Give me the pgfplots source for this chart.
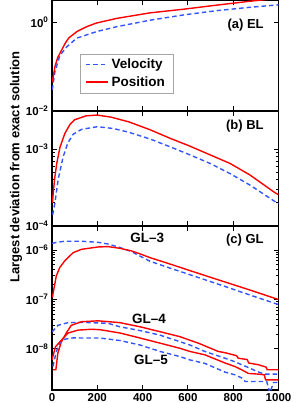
\documentclass[border=0pt]{standalone}
\usepackage{pgfplots}
\pgfplotsset{compat=1.18}
\usepackage{fontspec}
\setmainfont{Liberation Sans}
\definecolor{myred}{RGB}{255,0,0}
\definecolor{myblue}{RGB}{51,85,255}
\pgfplotsset{
 panel/.style={
  scale only axis, width=226.5pt, xmin=0, xmax=1000,
  xtick={0,200,400,600,800,1000}, tick align=inside,
  major tick length=5pt, minor tick length=3pt,
  axis line style={line width=1.1pt},
  every tick/.style={line width=0.9pt, black},
  tick label style={font=\fontsize{11.5}{13}\selectfont\bfseries},
  anchor=south west,
 },
 posline/.style={myred, line width=1.4pt},
 velline/.style={myblue, line width=1.4pt, dash pattern=on 4.5pt off 3pt},
}
\newcommand{\lab}{\fontsize{13}{15}\selectfont\bfseries}
\newcommand{\glab}{\fontsize{13.5}{15}\selectfont\bfseries}
\begin{document}
\begin{tikzpicture}[x=1pt,y=1pt]
\path[use as bounding box] (0,0) rectangle (299,403);
% panel (a)
\begin{axis}[ymode=log, panel, at={(52pt,292pt)}, height=111pt,
  ymin=1e-2, ymax=3.2, ytick={1e-2,1}, yticklabels={10\textsuperscript{−2},10\textsuperscript{0}},
  yminorticks=false, xticklabels={},
  legend style={at={(0.124,0.514)}, anchor=north west, draw=gray!70,
    font=\fontsize{13.5}{15}\selectfont\bfseries, inner xsep=5pt, inner ysep=3pt, row sep=2pt,
    nodes={inner xsep=3pt}},
  legend cell align=left,
  legend image code/.code={\draw[#1, line width=1.4pt] (0pt,0pt) -- (22pt,0pt);}]
\addplot[velline] coordinates {(1,0.03)(13,0.077)(35,0.18)(65,0.28)(109,0.44)(197,0.62)(286,0.8)(433,1.12)(580,1.47)(727,1.84)(874,2.19)(992,2.47)(1000,2.5)};
\addlegendentry{Velocity}
\addplot[posline] coordinates {(1,0.045)(3,0.05)(13,0.1)(25,0.16)(43,0.24)(60,0.35)(75,0.45)(110,0.62)(153,0.8)(197,0.97)(286,1.23)(433,1.64)(580,1.98)(727,2.45)(874,3.0)(1000,3.5)};
\addlegendentry{Position}
\node[anchor=east, font=\lab] at (rel axis cs:0.95,0.775) {(a) EL};
\end{axis}
% panel (b)
\begin{axis}[ymode=log, panel, at={(52pt,177pt)}, height=115pt,
  ymin=1e-4, ymax=3.12e-3, ytick={1e-4,1e-3}, yticklabels={10\textsuperscript{−4},10\textsuperscript{−3}},
  xticklabels={}]
\addplot[velline] coordinates {(3,1.4e-4)(13,2.0e-4)(27,4.0e-4)(49,7.9e-4)(70,1.2e-3)(93,1.55e-3)(130,1.8e-3)(200,1.95e-3)(270,1.85e-3)(340,1.65e-3)(433,1.35e-3)(521,1.07e-3)(609,8.4e-4)(698,6.5e-4)(786,4.8e-4)(874,3.4e-4)(985,2.07e-4)(1000,1.95e-4)};
\addplot[posline] coordinates {(2,2.0e-4)(6,2.8e-4)(12,4.2e-4)(21,6.5e-4)(35,1.05e-3)(57,1.6e-3)(80,2.1e-3)(100,2.4e-3)(150,2.7e-3)(200,2.76e-3)(260,2.6e-3)(340,2.25e-3)(433,1.78e-3)(521,1.38e-3)(609,1.09e-3)(698,8.4e-4)(786,6.5e-4)(874,4.6e-4)(985,2.7e-4)(1000,2.55e-4)};
\node[anchor=east, font=\lab] at (rel axis cs:0.95,0.87) {(b) BL};
\end{axis}
% panel (c)
\begin{axis}[ymode=log, panel, at={(52pt,13pt)}, height=164pt,
  ymin=1.48e-9, ymax=3.05e-6, ytick={1e-8,1e-7,1e-6},
  yticklabels={10\textsuperscript{−8},10\textsuperscript{−7},10\textsuperscript{−6}},
  xticklabels={0,200,400,600,800,1000}]
% GL-3
\addplot[velline] coordinates {(0,1.36e-6)(30,1.45e-6)(56,1.5e-6)(130,1.5e-6)(203,1.43e-6)(247,1.32e-6)(300,1.12e-6)(350,9.3e-7)(433,5.9e-7)(521,4.3e-7)(609,3.16e-7)(698,2.31e-7)(786,1.69e-7)(874,1.23e-7)(985,8.3e-8)(1000,7.9e-8)};
\addplot[posline] coordinates {(2,1.1e-7)(4,1.27e-7)(12,2.0e-7)(19,3.0e-7)(34,4.4e-7)(56,6.0e-7)(93,8.8e-7)(130,1.03e-6)(203,1.15e-6)(247,1.17e-6)(300,1.08e-6)(350,9.6e-7)(390,8.3e-7)(433,7.0e-7)(521,5.2e-7)(609,3.83e-7)(698,2.82e-7)(786,2.09e-7)(874,1.55e-7)(985,1.05e-7)(1000,1.0e-7)};
% GL-4
\addplot[velline] coordinates {(0,2.2e-8)(26,3.0e-8)(71,3.4e-8)(130,3.45e-8)(247,3.3e-8)(300,2.8e-8)(389,2.35e-8)(477,1.9e-8)(565,1.4e-8)(609,1.2e-8)(675,8.9e-9)(764,6.5e-9)(808,5.5e-9)(837,4.8e-9)(874,4.1e-9)(904,3.5e-9)(940,3.1e-9)(1000,3.1e-9)};
\addplot[posline] coordinates {(5,3.8e-9)(17,3.8e-9)(26,8.3e-9)(41,1.38e-8)(63,2.1e-8)(85,3.0e-8)(130,3.55e-8)(203,3.7e-8)(300,3.4e-8)(389,2.8e-8)(477,2.23e-8)(565,1.77e-8)(609,1.5e-8)(646,1.31e-8)(734,8.9e-9)(764,8.4e-9)(815,7.3e-9)(822,6.5e-9)(862,6.1e-9)(868,5.2e-9)(911,4.8e-9)(945,4.3e-9)(950,3.8e-9)(1000,3.8e-9)};
% GL-5
\addplot[velline] coordinates {(4,4.4e-9)(19,8.8e-9)(34,1.3e-8)(56,1.57e-8)(93,1.67e-8)(212,1.66e-8)(300,1.48e-8)(389,1.2e-8)(477,8.9e-9)(565,7.0e-9)(609,6.0e-9)(675,5.1e-9)(764,3.4e-9)(808,3.0e-9)(837,2.6e-9)(852,2.2e-9)(948,2.2e-9)(962,1.3e-9)(978,2.1e-9)(1000,2.1e-9)};
\addplot[posline] coordinates {(0,6e-9)(15,1.1e-8)(34,1.38e-8)(71,2.1e-8)(115,2.4e-8)(174,2.5e-8)(212,2.45e-8)(300,2.1e-8)(389,1.66e-8)(477,1.31e-8)(565,1.03e-8)(609,8.9e-9)(675,7.6e-9)(764,5.2e-9)(808,4.4e-9)(837,3.8e-9)(867,3.2e-9)(911,3.1e-9)(937,3.0e-9)(943,2.37e-9)(1000,2.37e-9)};
\node[anchor=east, font=\lab] at (rel axis cs:0.95,0.915) {(c) GL};
\node[font=\glab] at (rel axis cs:0.42,0.927) {GL–3};
\node[font=\glab] at (rel axis cs:0.428,0.433) {GL–4};
\node[font=\glab] at (rel axis cs:0.437,0.183) {GL–5};
\end{axis}
\node[rotate=90, font=\fontsize{13}{15}\selectfont\bfseries] at (16,236) {Largest deviation from exact solution};
\end{tikzpicture}
\end{document}
